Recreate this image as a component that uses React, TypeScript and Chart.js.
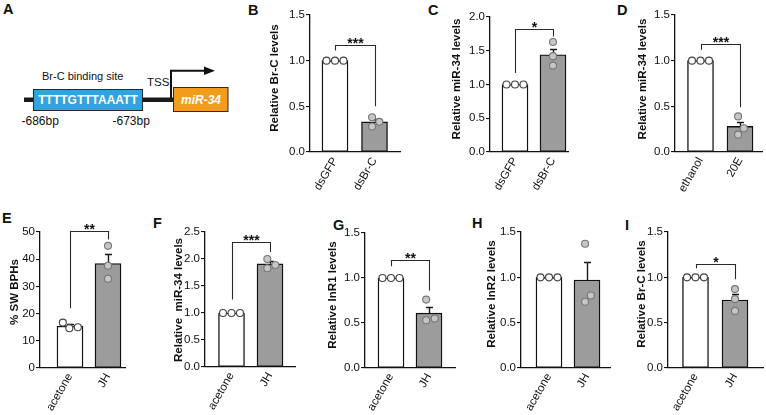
import React, { useEffect, useRef } from 'react';
import { Chart, registerables } from 'chart.js';

Chart.register(...registerables);

const FONT = '"Liberation Sans", Arial, Helvetica, sans-serif';

// ---------------- data ----------------
// Panel B
const catsB = ['dsGFP', 'dsBr-C'];
const meansB = [1.0, 0.33];
const semsB = [0, 0.03];
const dotsBctrl = [1.0, 1.0, 1.0];
const dotsBtrt = [0.28, 0.38, 0.33];
const yTicksB = ['0.0', '0.5', '1.0', '1.5'];
const titleB = 'Relative Br-C levels';
const sigB = '***';
const bracketB = [1.17, 1.11, 0.5];

// Panel C
const catsC = ['dsGFP', 'dsBr-C'];
const meansC = [1.0, 1.44];
const semsC = [0, 0.09];
const dotsCctrl = [1.0, 1.0, 1.0];
const dotsCtrt = [1.63, 1.42, 1.28];
const yTicksC = ['0.0', '0.5', '1.0', '1.5', '2.0'];
const titleC = 'Relative miR-34 levels';
const sigC = '*';
const bracketC = [1.82, 1.17, 1.71];

// Panel D
const catsD = ['ethanol', '20E'];
const meansD = [1.0, 0.28];
const semsD = [0, 0.05];
const dotsDctrl = [1.0, 1.0, 1.0];
const dotsDtrt = [0.39, 0.26, 0.19];
const yTicksD = ['0.0', '0.5', '1.0', '1.5'];
const titleD = 'Relative miR-34 levels';
const sigD = '***';
const bracketD = [1.18, 1.12, 0.49];

// Panel E
const catsE = ['acetone', 'JH'];
const meansE = [15.4, 38.4];
const semsE = [0.8, 3.5];
const dotsEctrl = [16.7, 14.6, 15.0];
const dotsEtrt = [44.9, 37.6, 32.8];
const yTicksE = ['0', '10', '20', '30', '40', '50'];
const titleE = '% SW BPHs';
const sigE = '**';
const bracketE = [50.3, 22, 47.2];

// Panel F
const catsF = ['acetone', 'JH'];
const meansF = [1.0, 1.91];
const semsF = [0, 0.05];
const dotsFctrl = [1.0, 1.0, 1.0];
const dotsFtrt = [2.0, 1.83, 1.89];
const yTicksF = ['0.0', '0.5', '1.0', '1.5', '2.0', '2.5'];
const titleF = 'Relative  miR-34 levels';
const sigF = '***';
const bracketF = [2.32, 1.25, 2.13];

// Panel G
const catsG = ['acetone', 'JH'];
const meansG = [1.0, 0.61];
const semsG = [0, 0.07];
const dotsGctrl = [1.0, 1.0, 1.0];
const dotsGtrt = [0.53, 0.76, 0.55];
const yTicksG = ['0.0', '0.5', '1.0', '1.5'];
const titleG = 'Relative InR1 levels';
const sigG = '**';
const bracketG = [1.2, 1.13, 0.86];

// Panel H
const catsH = ['acetone', 'JH'];
const meansH = [1.0, 0.97];
const semsH = [0, 0.2];
const dotsHctrl = [1.0, 1.0, 1.0];
const dotsHtrt = [1.37, 0.73, 0.8];
const yTicksH = ['0.0', '0.5', '1.0', '1.5'];
const titleH = 'Relative InR2 levels';

// Panel I
const catsI = ['acetone', 'JH'];
const meansI = [1.0, 0.75];
const semsI = [0, 0.07];
const dotsIctrl = [1.0, 1.0, 1.0];
const dotsItrt = [0.87, 0.76, 0.63];
const yTicksI = ['0.0', '0.5', '1.0', '1.5'];
const titleI = 'Relative Br-C levels';
const sigI = '*';
const bracketI = [1.15, 1.1, 0.98];

// ---------------- panel definitions ----------------
type PanelData = {
  id: string;
  cats: string[];
  means: number[];
  sems: number[];
  dots: number[][];
  yTicks: string[];
  title: string;
  sig?: string;
  bracket?: number[];
};

const PANELS: PanelData[] = [
  { id: 'B', cats: catsB, means: meansB, sems: semsB, dots: [dotsBctrl, dotsBtrt], yTicks: yTicksB, title: titleB, sig: sigB, bracket: bracketB },
  { id: 'C', cats: catsC, means: meansC, sems: semsC, dots: [dotsCctrl, dotsCtrt], yTicks: yTicksC, title: titleC, sig: sigC, bracket: bracketC },
  { id: 'D', cats: catsD, means: meansD, sems: semsD, dots: [dotsDctrl, dotsDtrt], yTicks: yTicksD, title: titleD, sig: sigD, bracket: bracketD },
  { id: 'E', cats: catsE, means: meansE, sems: semsE, dots: [dotsEctrl, dotsEtrt], yTicks: yTicksE, title: titleE, sig: sigE, bracket: bracketE },
  { id: 'F', cats: catsF, means: meansF, sems: semsF, dots: [dotsFctrl, dotsFtrt], yTicks: yTicksF, title: titleF, sig: sigF, bracket: bracketF },
  { id: 'G', cats: catsG, means: meansG, sems: semsG, dots: [dotsGctrl, dotsGtrt], yTicks: yTicksG, title: titleG, sig: sigG, bracket: bracketG },
  { id: 'H', cats: catsH, means: meansH, sems: semsH, dots: [dotsHctrl, dotsHtrt], yTicks: yTicksH, title: titleH },
  { id: 'I', cats: catsI, means: meansI, sems: semsI, dots: [dotsIctrl, dotsItrt], yTicks: yTicksI, title: titleI, sig: sigI, bracket: bracketI },
];

// layout (pixels): plot box, first bar centre offset, bar spacing, y-title offset / centre
type Layout = { left: number; right: number; top: number; bottom: number; c0: number; gap: number; tOff: number; tMid: number };
const LAYOUT: Record<string, Layout> = {
  B: { left: 310, right: 400, top: 15, bottom: 152, c0: 25, gap: 39.5, tOff: 35, tMid: 78 },
  C: { left: 490, right: 568, top: 17, bottom: 152, c0: 25, gap: 38, tOff: 33, tMid: 79 },
  D: { left: 675, right: 762, top: 15, bottom: 152, c0: 25.5, gap: 39.5, tOff: 32, tMid: 79 },
  E: { left: 40, right: 125, top: 232, bottom: 368, c0: 30, gap: 38, tOff: 25, tMid: 292 },
  F: { left: 205, right: 295, top: 232, bottom: 367, c0: 26.5, gap: 38.5, tOff: 26, tMid: 300 },
  G: { left: 365, right: 455, top: 233, bottom: 368, c0: 26, gap: 38, tOff: 32, tMid: 295 },
  H: { left: 521, right: 610, top: 232, bottom: 368, c0: 28, gap: 38, tOff: 29, tMid: 294 },
  I: { left: 668, right: 763, top: 232, bottom: 368, c0: 27.5, gap: 39.5, tOff: 26, tMid: 294 },
};

const YW = 46;
const XH = 50;
const PAD_R = 3;
const PAD_TOP = 18;
const DOT_R = 3.5;
const DOT_D = 8.5;
const INK = '#111111';

function swarm(ys: number[], minD: number): number[] {
  const order = ys.map((_, i) => i).sort((a, b) => ys[b] - ys[a]);
  const xs = new Array(ys.length).fill(0);
  const placed: number[] = [];
  for (const i of order) {
    let best = 0;
    for (let k = 0; k < 400; k++) {
      const dx = k === 0 ? 0 : (k % 2 === 1 ? 1 : -1) * Math.ceil(k / 2) * 0.25;
      const ok = placed.every((j) => Math.hypot(xs[j] - dx, ys[j] - ys[i]) >= minD - 1e-6);
      if (ok) {
        best = dx;
        break;
      }
    }
    xs[i] = best;
    placed.push(i);
  }
  const mean = xs.reduce((a, b) => a + b, 0) / xs.length;
  return xs.map((x) => x - mean);
}

function overlayPlugin(p: PanelData, L: Layout, canvasTop: number) {
  return {
    id: 'overlay' + p.id,
    afterDatasetsDraw(chart: any) {
      const ctx = chart.ctx as CanvasRenderingContext2D;
      const xs = chart.scales.x;
      const ys = chart.scales.y;
      ctx.save();
      // error bars (mean + SEM)
      p.means.forEach((m, i) => {
        const s = p.sems[i];
        if (!s) return;
        const cx = Math.round(xs.getPixelForValue(i)) + 0.5;
        const y0 = ys.getPixelForValue(m);
        const y1 = Math.round(ys.getPixelForValue(m + s)) + 0.5;
        ctx.strokeStyle = '#1a1a1a';
        ctx.lineWidth = 1.4;
        ctx.beginPath();
        ctx.moveTo(cx, y0);
        ctx.lineTo(cx, y1);
        ctx.moveTo(cx - 3.5, y1);
        ctx.lineTo(cx + 3.5, y1);
        ctx.stroke();
      });
      // individual points
      p.dots.forEach((vals, i) => {
        const cx = xs.getPixelForValue(i);
        const py = vals.map((v) => ys.getPixelForValue(v));
        const off = swarm(py, DOT_D);
        py.forEach((y, k) => {
          ctx.beginPath();
          ctx.arc(cx + off[k], y, DOT_R, 0, Math.PI * 2);
          ctx.fillStyle = i === 0 ? '#ffffff' : '#c6c6c6';
          ctx.strokeStyle = i === 0 ? '#444444' : '#777777';
          ctx.lineWidth = 1.1;
          ctx.fill();
          ctx.stroke();
        });
      });
      // significance bracket
      if (p.bracket && p.sig) {
        const [lvl, la, lb] = p.bracket;
        const xa = Math.round(xs.getPixelForValue(0)) + 0.5;
        const xb = Math.round(xs.getPixelForValue(1)) + 0.5;
        const yl = Math.round(ys.getPixelForValue(lvl)) + 0.5;
        const ya = ys.getPixelForValue(la);
        const yb = ys.getPixelForValue(lb);
        ctx.strokeStyle = '#2a2a2a';
        ctx.lineWidth = 1.1;
        ctx.beginPath();
        ctx.moveTo(xa, ya);
        ctx.lineTo(xa, yl);
        ctx.lineTo(xb, yl);
        ctx.lineTo(xb, yb);
        ctx.stroke();
        ctx.fillStyle = INK;
        ctx.font = `bold 14px ${FONT}`;
        ctx.textAlign = 'center';
        ctx.textBaseline = 'alphabetic';
        ctx.fillText(p.sig, (xa + xb) / 2, yl + 2);
      }
      // y-axis title
      ctx.save();
      ctx.translate(chart.chartArea.left - L.tOff, L.tMid - canvasTop);
      ctx.rotate(-Math.PI / 2);
      ctx.fillStyle = INK;
      ctx.font = `bold 11.5px ${FONT}`;
      ctx.textAlign = 'center';
      ctx.textBaseline = 'middle';
      ctx.fillText(p.title, 0, 0);
      ctx.restore();
      ctx.restore();
    },
  };
}

function PanelChart({ p }: { p: PanelData }) {
  const ref = useRef<HTMLCanvasElement>(null);
  const L = LAYOUT[p.id];
  const pt = Math.min(PAD_TOP, L.top);
  const w = L.right - L.left + YW + PAD_R;
  const h = L.bottom - L.top + pt + XH;
  const canvasLeft = L.left - YW;
  const canvasTop = L.top - pt;

  useEffect(() => {
    const yVals = p.yTicks.map((t) => parseFloat(t));
    const xMin = -L.c0 / L.gap;
    const xMax = xMin + (L.right - L.left) / L.gap;
    const chart = new Chart(ref.current as HTMLCanvasElement, {
      type: 'bar',
      data: {
        datasets: [
          {
            data: p.means.map((m, i) => ({ x: i, y: m })),
            backgroundColor: ['#ffffff', '#9c9c9c'],
            borderColor: '#111111',
            borderWidth: 1.4,
            borderSkipped: false,
            barThickness: 26,
          } as any,
        ],
      },
      options: {
        animation: false,
        responsive: false,
        events: [],
        layout: { padding: { top: pt, right: PAD_R, left: 0, bottom: 0 } },
        plugins: { legend: { display: false }, tooltip: { enabled: false } },
        scales: {
          x: {
            type: 'linear',
            min: xMin,
            max: xMax,
            offset: false,
            grid: { display: false, drawTicks: false },
            border: { display: true, color: INK, width: 1.3 },
            ticks: {
              autoSkip: false,
              minRotation: 60,
              maxRotation: 60,
              padding: 3,
              color: INK,
              font: { family: FONT, size: 11.5 },
              callback: (_v: any, i: number) => p.cats[i],
            },
            afterBuildTicks: (s: any) => {
              s.ticks = p.cats.map((_, i) => ({ value: i }));
            },
            afterFit: (s: any) => {
              s.height = XH;
              s.paddingLeft = 0;
              s.paddingRight = 0;
            },
          } as any,
          y: {
            type: 'linear',
            min: yVals[0],
            max: yVals[yVals.length - 1],
            grid: { display: true, drawOnChartArea: false, drawTicks: true, tickLength: 4, color: INK, lineWidth: 1.1 },
            border: { display: true, color: INK, width: 1.3 },
            ticks: {
              padding: 1,
              color: INK,
              font: { family: FONT, size: 11.5 },
              callback: (_v: any, i: number) => p.yTicks[i],
            },
            afterBuildTicks: (s: any) => {
              s.ticks = yVals.map((v) => ({ value: v }));
            },
            afterFit: (s: any) => {
              s.width = YW;
              s.paddingTop = 0;
              s.paddingBottom = 0;
            },
          } as any,
        },
      },
      plugins: [overlayPlugin(p, L, canvasTop)],
    });
    return () => chart.destroy();
  }, []);

  return (
    <canvas
      ref={ref}
      width={w}
      height={h}
      style={{ position: 'absolute', left: canvasLeft, top: canvasTop, width: w, height: h }}
    />
  );
}

const LETTERS: [string, number, number][] = [
  ['A', 3, 13.5],
  ['B', 248, 15],
  ['C', 428, 15],
  ['D', 617, 15],
  ['E', 2, 223],
  ['F', 153, 228],
  ['G', 333, 230],
  ['H', 472, 228],
  ['I', 625, 230],
];

function Diagram() {
  const txt = { fontFamily: FONT, fill: INK } as any;
  return (
    <svg width={766} height={415} style={{ position: 'absolute', left: 0, top: 0 }}>
      {LETTERS.map(([t, x, y]) => (
        <text key={t} x={x} y={y} {...txt} fontWeight="bold" fontSize={14.5}>
          {t}
        </text>
      ))}
      <rect x={24} y={97.5} width={150} height={4.5} fill="#1a1a1a" />
      <rect x={33.5} y={89.5} width={109} height={21} fill="#33a3dc" stroke="#2a2a2a" strokeWidth={1} />
      <text x={88} y={104.3} textAnchor="middle" fontFamily={FONT} fill="#ffffff" fontWeight="bold" fontSize={12}>
        TTTTGTTTAAATT
      </text>
      <rect x={173.5} y={87.5} width={54.5} height={24} fill="#f39c1b" stroke="#2a2a2a" strokeWidth={1} />
      <text x={201} y={104} textAnchor="middle" fontFamily={FONT} fill="#ffffff" fontWeight="bold" fontStyle="italic" fontSize={12}>
        miR-34
      </text>
      <polyline points="171,98 171,70.7 207,70.7" fill="none" stroke="#111" strokeWidth={2} />
      <polygon points="204,66.5 215,70.7 204,75" fill="#111" />
      <text x={147} y={85.5} {...txt} fontSize={11.5}>
        TSS
      </text>
      <text x={42} y={80} {...txt} fontSize={11}>
        Br-C binding site
      </text>
      <text x={21.5} y={124.5} {...txt} fontSize={12}>
        -686bp
      </text>
      <text x={112.5} y={124.5} {...txt} fontSize={12}>
        -673bp
      </text>
    </svg>
  );
}

export default function App() {
  return (
    <div
      style={{
        position: 'fixed',
        left: 0,
        top: 0,
        width: 766,
        height: 415,
        background: '#ffffff',
        overflow: 'hidden',
      }}
    >
      <Diagram />
      {PANELS.map((p) => (
        <PanelChart key={p.id} p={p} />
      ))}
    </div>
  );
}
